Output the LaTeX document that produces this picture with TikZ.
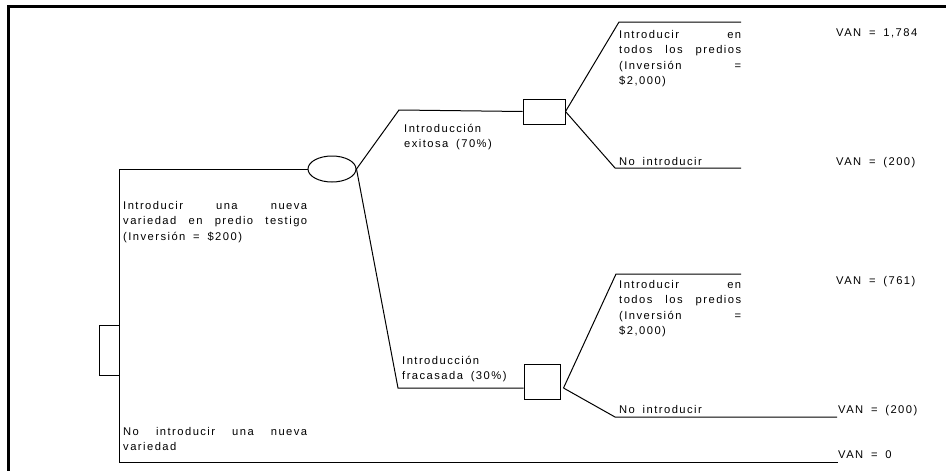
\documentclass[tikz,border=0pt]{standalone}
\usepackage{fontspec}
\setmainfont[LetterSpace=13, WordSpace=1.7]{Liberation Sans}
\usetikzlibrary{shapes.geometric}

\tikzset{
  branch/.style={line width=1pt},
  decision/.style={draw, rectangle, line width=1pt, inner sep=0pt},
  chance/.style={draw, ellipse, line width=1pt, inner sep=0pt,
    minimum width=48pt, minimum height=26pt},
  choice/.style={anchor=base west, inner sep=0pt, align=justify},
  payoff/.style={anchor=base west, inner sep=0pt}
}

\begin{document}
\begin{tikzpicture}[x=1pt, y=-1pt,
    every node/.style={font=\fontsize{11.2}{15.5}\selectfont}]
    \useasboundingbox (0,0) rectangle (946,471);
    \draw[line width=2.3pt] (8.5,471) -- (8.5,6.5) -- (946,6.5);

    % nodos de decision y de azar
    \node[decision, minimum width=20pt, minimum height=50pt] (raiz) at (109,350) {};
    \node[chance] (azar) at (332,169) {};
    \node[decision, minimum width=42pt, minimum height=25pt] (exito) at (544,111.5) {};
    \node[decision, minimum width=36pt, minimum height=35pt] (fracaso) at (542,381.5) {};

    % extremos de las ramas
    \coordinate (finA) at (741,22);
    \coordinate (finB) at (741,168);
    \coordinate (finC) at (741,274);
    \coordinate (finD) at (837,417);
    \coordinate (finE) at (838,462);

    \draw[branch] (azar.west) -| (raiz.east) |- (finE);
    \draw[branch] (azar.east) -- (399,110) -- (exito.west);
    \draw[branch] (azar.east) -- (398,388) -- ([yshift=-6.5pt]fracaso.west);
    \draw[branch] (exito.east) -- (619,22) -- (finA);
    \draw[branch] (exito.east) -- (615,168) -- (finB);
    \draw[branch] ([xshift=3pt,yshift=-6.5pt]fracaso.east) -- (616,274) -- (finC);
    \draw[branch] ([xshift=3pt,yshift=-6.5pt]fracaso.east) -- (615,417) -- (finD);

    % textos de las ramas
    \node[choice, text width=184pt] (t1) at (123,209)
        {Introducir una nueva\linebreak variedad en predio testigo\linebreak (Inversión = \$200)};
    \node[choice, text width=184pt] (t2) at (123,435)
        {No introducir una nueva\linebreak variedad};
    \node[choice, text width=110pt] (t3) at (404,132) {Introducción\newline exitosa (70\%)};
    \node[choice, text width=110pt] (t4) at (402,364) {Introducción\newline fracasada (30\%)};
    \node[choice, text width=122pt] (t5) at (619,38)
        {Introducir en\linebreak todos los predios\linebreak (Inversión =\linebreak \$2,000)};
    \node[choice, text width=122pt] (t6) at (619,288)
        {Introducir en\linebreak todos los predios\linebreak (Inversión =\linebreak \$2,000)};
    \node[payoff] (t7) at (619,165) {No introducir};
    \node[payoff] (t8) at (619,413) {No introducir};

    % valores
    \node[payoff] (v1) at (836,36) {VAN = 1,784};
    \node[payoff] (v2) at (836,165) {VAN = (200)};
    \node[payoff] (v3) at (836,284) {VAN = (761)};
    \node[payoff] (v4) at (838,413) {VAN = (200)};
    \node[payoff] (v5) at (838,458) {VAN = 0};
\end{tikzpicture}
\end{document}
